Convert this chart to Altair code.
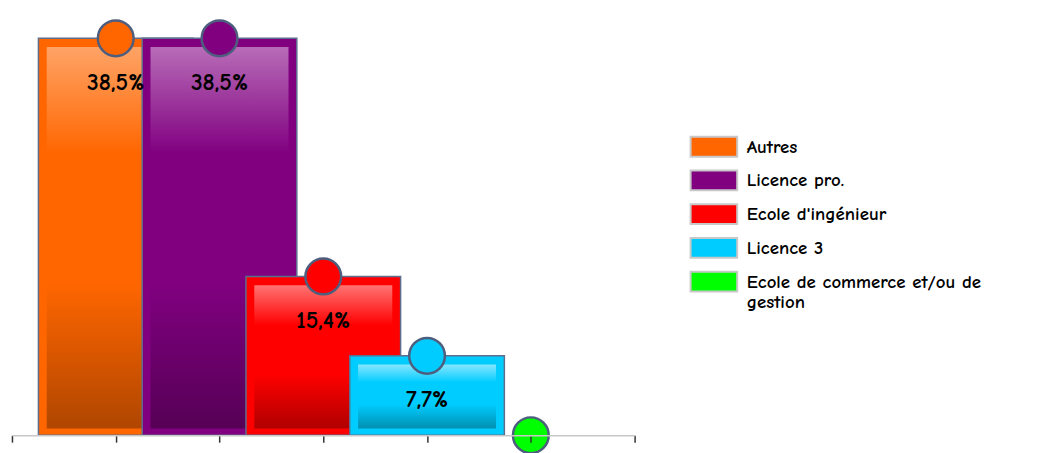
import altair as alt
import pandas as pd

categories = ["Autres", "Licence pro.", "Ecole d'ingénieur", "Licence 3",
              "Ecole de commerce et/ou de gestion"]
values = [38.5, 38.5, 15.4, 7.7, 0.0]
colors = ["#FF6600", "#800080", "#FF0000", "#00CCFF", "#00FF00"]
light = ["#FFA366", "#B86CB8", "#FF7373", "#85E6FF", "#80FF80"]
dark = ["#B04600", "#560056", "#B00000", "#0090B0", "#00A000"]
tick_values = [0, 1, 2, 3, 4, 5, 6]

df = pd.DataFrame({"cat": categories, "value": values,
                   "idx": list(range(1, len(categories) + 1))})

FONT = "Comic Sans MS, Comic Neue, DejaVu Sans"
HALF = 0.745
INSET_X = 0.08
INSET_TOP = 0.85
INSET_BOT = 0.65

color_scale = alt.Scale(domain=categories, range=colors)
xscale = alt.Scale(domain=[0, 6], nice=False, zero=False)
yscale = alt.Scale(domain=[0, 40], nice=False)
xaxis = alt.Axis(values=tick_values, labels=False, grid=False, title=None,
                 domainColor="#C8C8C8", domainWidth=1.5, tickColor="#333333",
                 tickSize=7, tickWidth=1.5, zindex=1)


def X(f):
    return alt.X(f, type="quantitative", scale=xscale, axis=xaxis)


def Y(f):
    return alt.Y(f, type="quantitative", scale=yscale, axis=None)


base = alt.Chart(df).transform_calculate(
    bx1=f"datum.idx - {HALF}", bx2=f"datum.idx + {HALF}",
    ix1=f"datum.idx - {HALF} + {INSET_X}", ix2=f"datum.idx + {HALF} - {INSET_X}",
    iy1=f"{INSET_BOT}", iy2=f"datum.value - {INSET_TOP}", y0="0",
    lab="replace(format(datum.value, '.1f'), '.', ',') + '%'"
)

legend = alt.Legend(
    title=None, orient="none", legendX=697, legendY=114,
    symbolType="M-2.35,-1H2.35V1H-2.35Z", symbolSize=400,
    symbolStrokeColor="#C8C8C8", symbolStrokeWidth=2, symbolOpacity=1,
    labelFont=FONT, labelFontSize=19, labelFontWeight="bold", labelColor="#000000",
    labelOffset=22, labelLimit=400, rowPadding=6, padding=0,
    labelExpr="datum.label == 'Ecole de commerce et/ou de gestion' ? ['Ecole de commerce et/ou de', 'gestion'] : datum.label",
)

layers = []
for i, c in enumerate(categories):
    if values[i] <= 0:
        continue
    sub = base.transform_filter(alt.datum.idx == i + 1)
    outer = sub.mark_bar(stroke="#5E6E8E", strokeWidth=1.5, opacity=1).encode(
        x=X("bx1"), x2="bx2:Q", y=Y("value"), y2="y0:Q",
        fill=alt.Fill("cat:N", scale=color_scale, legend=legend),
    )
    inner = sub.mark_bar(
        fill={"gradient": "linear", "x1": 0, "y1": 0, "x2": 0, "y2": 1,
              "stops": [{"offset": 0, "color": light[i]},
                        {"offset": 0.28, "color": colors[i]},
                        {"offset": 0.62, "color": colors[i]},
                        {"offset": 1, "color": dark[i]}]},
        opacity=1,
    ).encode(x=X("ix1"), x2="ix2:Q", y=Y("iy2"), y2="iy1:Q")
    layers += [outer, inner]

circles = base.mark_point(shape="circle", size=1300, filled=True, opacity=1,
                          stroke="#4E5E7E", strokeWidth=2.5).encode(
    x=X("idx"), y=Y("value"),
    fill=alt.Fill("cat:N", scale=color_scale, legend=legend),
)

labels = base.transform_filter(alt.datum.value > 0).mark_text(
    font=FONT, fontSize=24, fontWeight="bold", color="#000000",
    baseline="middle", dy=45
).encode(x=X("idx"), y=Y("value"), text="lab:N")

chart = alt.layer(*layers, circles, labels).properties(
    width=628, height=416,
    padding={"left": 4, "top": 13, "right": 420, "bottom": 20},
    autosize=alt.AutoSizeParams(type="none"),
).configure_view(strokeWidth=0)

chart.save("out.html", embed_options={"renderer": "svg", "actions": False})
